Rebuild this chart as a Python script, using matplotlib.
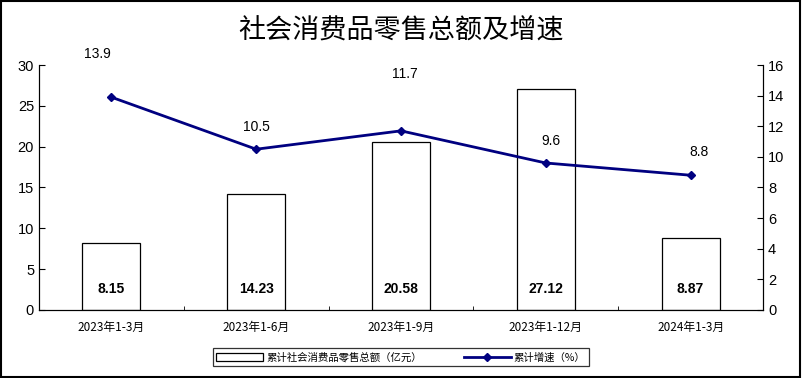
import numpy as np
import matplotlib.pyplot as plt
from matplotlib.patches import Rectangle

plt.rcParams['font.family'] = ['Liberation Sans', 'Noto Sans CJK SC', 'DejaVu Sans']

# data
periods = ['2023年1-3月', '2023年1-6月', '2023年1-9月', '2023年1-12月', '2024年1-3月']
sales = [8.15, 14.23, 20.58, 27.12, 8.87]
growth = [13.9, 10.5, 11.7, 9.6, 8.8]
# label offsets (points) for growth labels
growth_off = [(-10, 26), (0, 11), (3, 36), (4, 11), (6, 12)]

fig = plt.figure(figsize=(8.02, 3.78), dpi=100)
fig.patches.append(Rectangle((0.001, 0.002), 0.997, 0.995, transform=fig.transFigure,
                             fill=False, edgecolor='black', linewidth=1.5))

ax = fig.add_axes([0.0486, 0.18, 0.9028, 0.648])
x = np.arange(len(periods))
bars = ax.bar(x, sales, width=0.4, facecolor='white', edgecolor='black', linewidth=0.9,
              label='累计社会消费品零售总额（亿元）')
ax.set_xlim(-0.5, len(periods) - 0.5)
ax.set_ylim(0, 30)
ax.set_yticks(range(0, 31, 5))
ax.set_xticks(x)
ax.set_xticklabels(periods, family=['Noto Sans CJK SC'], fontsize=8.5)
ax.set_xticks(np.arange(-0.5, len(periods)), minor=True)
ax.tick_params(axis='x', which='major', length=0, pad=8)
ax.tick_params(axis='x', which='minor', direction='in', length=3)
ax.tick_params(axis='y', direction='in', length=4, labelsize=10.5)
ax.spines['top'].set_visible(False)

for xi, v in zip(x, sales):
    ax.annotate(f'{v:.2f}', (xi, 0), xytext=(0, 10), textcoords='offset points',
                ha='center', va='bottom', fontsize=10, fontweight='bold')

ax2 = ax.twinx()
ln, = ax2.plot(x, growth, color='#000080', linewidth=2, marker='D', markersize=4,
               label='累计增速（%）')
ax2.set_ylim(0, 16)
ax2.set_yticks(range(0, 17, 2))
ax2.tick_params(axis='y', direction='in', length=4, labelsize=10.5)
ax2.spines['top'].set_visible(False)

for xi, v, off in zip(x, growth, growth_off):
    ax2.annotate(f'{v}', (xi, v), xytext=off, textcoords='offset points',
                 ha='center', va='bottom', fontsize=10)

fig.text(0.5, 0.918, '社会消费品零售总额及增速', ha='center', va='center',
         fontsize=19.5, family=['Noto Sans CJK SC'], fontweight='light')

leg = fig.legend(handles=[bars, ln], loc='center', bbox_to_anchor=(0.5, 0.055),
                 ncol=2, frameon=True, fancybox=False, edgecolor='black',
                 prop={'family': 'Noto Sans CJK SC', 'size': 7.5},
                 handlelength=4.5, handleheight=0.8, columnspacing=4,
                 borderpad=0.35, handletextpad=0.3)
leg.get_frame().set_linewidth(0.9)

fig.savefig('out.png', dpi=100)
